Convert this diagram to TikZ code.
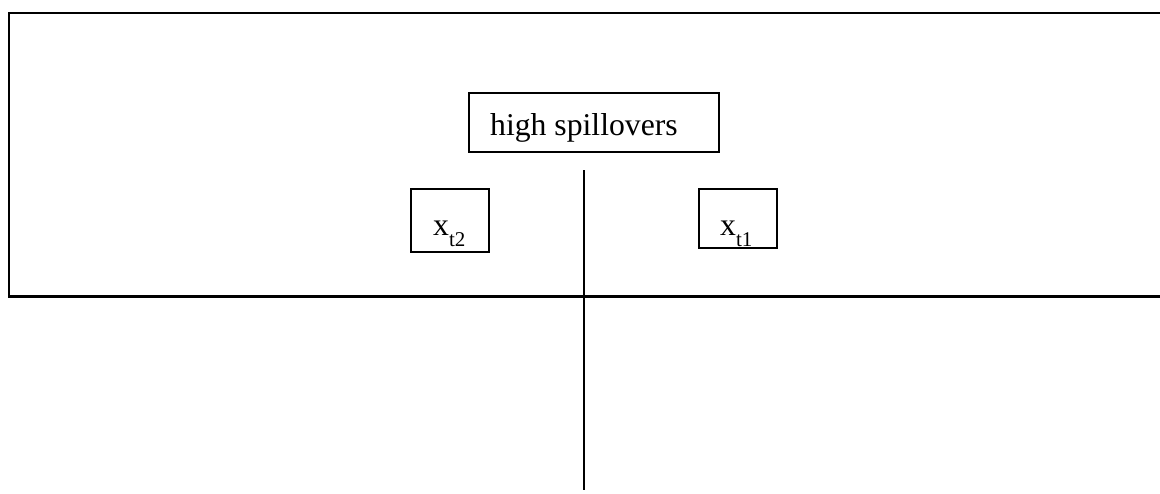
\documentclass[tikz,border=0pt]{standalone}
\usepackage{fontspec}
\setmainfont{Liberation Serif}
\begin{document}
\begin{tikzpicture}[x=1pt,y=-1pt,
  thinbox/.style={draw=black,line width=1.3pt,inner sep=0pt},
  lbl/.style={inner sep=0pt,anchor=base west,font=\fontsize{31.7}{38}\selectfont},
  thick frame/.style={line width=2.2pt}]
\useasboundingbox (0,0) rectangle (1160,493);
% outer frame (open on the right)
\coordinate (ftr) at (1165,13);
\coordinate (ftl) at (9,13);
\coordinate (fbl) at (9,296.5);
\coordinate (fbr) at (1165,296.5);
\draw[thick frame] (ftr) -- (ftl) -- (fbl) -- (fbr);
% boxes
\node[thinbox,minimum width=250pt,minimum height=59pt] (hs) at (594,122.5) {};
\node[lbl] (hstext) at (490,135) {high spillovers};
\node[thinbox,minimum width=78pt,minimum height=63pt] (b2) at (450,220.5) {};
\node[lbl] (x2) at (433,235) {x\raisebox{-0.36em}{\fontsize{21}{21}\selectfont t2}};
\node[thinbox,minimum width=78pt,minimum height=59pt] (b1) at (738,218.5) {};
\node[lbl] (x1) at (720,235) {x\raisebox{-0.36em}{\fontsize{21}{21}\selectfont t1}};
% vertical line
\coordinate (vt) at (584,170);
\coordinate (vb) at (584,490);
\draw[line width=1.6pt] (vt) -- (vb);
\end{tikzpicture}
\end{document}
